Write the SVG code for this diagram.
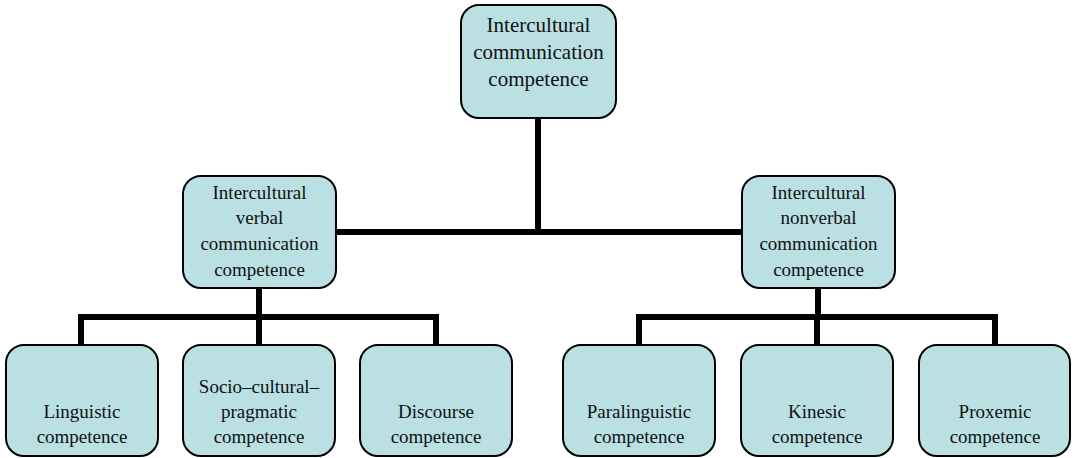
<svg xmlns="http://www.w3.org/2000/svg" width="1075" height="458" viewBox="0 0 1075 458">
<style>
.box{fill:#BAE0E4;stroke:#000;stroke-width:2}
text{font-family:'Liberation Serif','DejaVu Serif',serif;font-size:19px;fill:#111;text-anchor:middle}
.big{font-size:21px}
.c{stroke:#000;stroke-width:6;fill:none;stroke-linejoin:miter}
</style>
<rect width="1075" height="458" fill="#fff"/>
<g id="connectors">
<path class="c" d="M538,118 V232 M336,232 H742"/>
<path class="c" d="M259,288 V317 M81,345 V317 H436 V345 M259,317 V345"/>
<path class="c" d="M818,288 V317 M639,345 V317 H995 V345 M817,317 V345"/>
</g>
<g id="n-root">
<rect class="box" x="461" y="5" width="155" height="113" rx="18"/>
<text class="big" x="538.5" y="32">Intercultural</text>
<text class="big" x="538.5" y="59">communication</text>
<text class="big" x="538.5" y="86">competence</text>
</g>
<g id="n-verbal">
<rect class="box" x="183" y="176" width="153" height="112" rx="18"/>
<text x="259.5" y="199">Intercultural</text>
<text x="259.5" y="224">verbal</text>
<text x="259.5" y="250">communication</text>
<text x="259.5" y="276">competence</text>
</g>
<g id="n-nonverbal">
<rect class="box" x="742" y="176" width="153" height="112" rx="18"/>
<text x="818.5" y="199">Intercultural</text>
<text x="818.5" y="224">nonverbal</text>
<text x="818.5" y="250">communication</text>
<text x="818.5" y="276">competence</text>
</g>
<g id="n-linguistic">
<rect class="box" x="6" y="345" width="152" height="111" rx="18"/>
<text x="82" y="418">Linguistic</text>
<text x="82" y="443">competence</text>
</g>
<g id="n-socio">
<rect class="box" x="183" y="345" width="152" height="111" rx="18"/>
<text x="259" y="393">Socio–cultural–</text>
<text x="259" y="418">pragmatic</text>
<text x="259" y="443">competence</text>
</g>
<g id="n-discourse">
<rect class="box" x="360" y="345" width="152" height="111" rx="18"/>
<text x="436" y="418">Discourse</text>
<text x="436" y="443">competence</text>
</g>
<g id="n-paralinguistic">
<rect class="box" x="563" y="345" width="152" height="111" rx="18"/>
<text x="639" y="418">Paralinguistic</text>
<text x="639" y="443">competence</text>
</g>
<g id="n-kinesic">
<rect class="box" x="741" y="345" width="152" height="111" rx="18"/>
<text x="817" y="418">Kinesic</text>
<text x="817" y="443">competence</text>
</g>
<g id="n-proxemic">
<rect class="box" x="919" y="345" width="151" height="111" rx="18"/>
<text x="995" y="418">Proxemic</text>
<text x="995" y="443">competence</text>
</g>
</svg>
